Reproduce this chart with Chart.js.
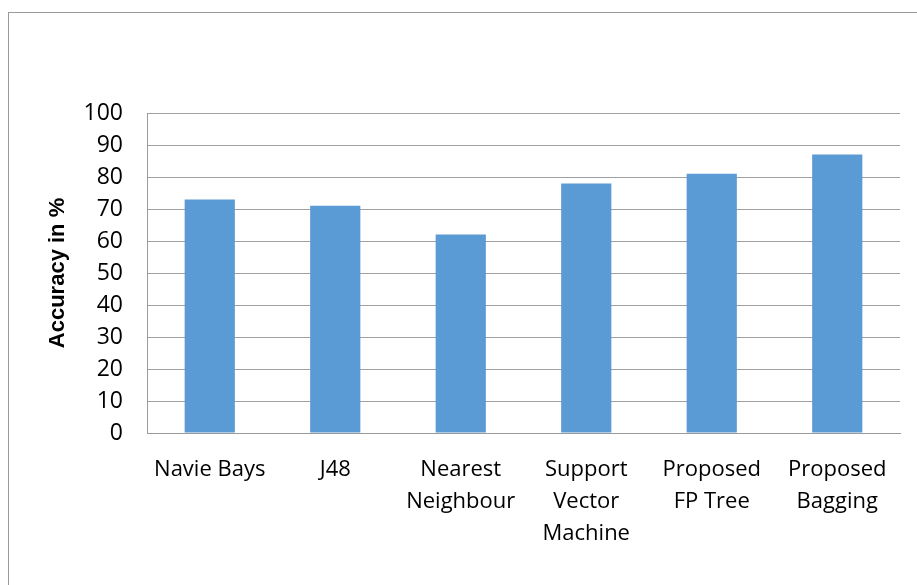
<!DOCTYPE html>
<html>
<head>
<meta charset="utf-8">
<script src="https://cdn.jsdelivr.net/npm/chart.js@4"></script>
<style>
  html, body { margin: 0; padding: 0; background: #fff; }
  #wrap { position: relative; width: 917px; height: 585px; overflow: hidden; }
  #frame { position: absolute; left: 8px; top: 12px; width: 1000px; height: 1000px;
           border-left: 1px solid #9a9a9a; border-top: 1px solid #9a9a9a; }
  canvas { position: absolute; left: 0; top: 0; }
</style>
</head>
<body>
<div id="wrap">
  <div id="frame"></div>
  <canvas id="accuracyChart" width="917" height="585"></canvas>
</div>
<script>
// categories and accuracy values
const methods = [
  'Navie Bays',
  'J48',
  ['Nearest', 'Neighbour'],
  ['Support', 'Vector', 'Machine'],
  ['Proposed', 'FP Tree'],
  ['Proposed', 'Bagging']
]
const accuracy = [73, 71, 62, 78, 81, 87]

const ctx = document.getElementById('accuracyChart').getContext('2d')
Chart.defaults.font.family = '"Open Sans", "DejaVu Sans", sans-serif'
Chart.defaults.color = '#000'

new Chart(ctx, {
  type: 'bar',
  data: {
    labels: methods,
    datasets: [{
      label: 'Accuracy',
      data: accuracy,
      backgroundColor: '#5b9bd5',
      borderWidth: 0,
      barPercentage: 0.5,
      categoryPercentage: 0.8
    }]
  },
  options: {
    responsive: false,
    animation: false,
    layout: { padding: { top: 113, right: 17, left: 45, bottom: 0 } },
    plugins: { legend: { display: false }, tooltip: { enabled: false } },
    scales: {
      x: {
        grid: { display: false, drawTicks: false },
        border: { color: '#9a9a9a' },
        ticks: { font: { size: 22, lineHeight: 1.45 }, padding: 21, maxRotation: 0, autoSkip: false },
        afterFit: scale => { scale.height = 152 }
      },
      y: {
        min: 0,
        max: 100,
        ticks: { stepSize: 10, font: { size: 23 }, padding: 24 },
        grid: { color: '#a0a0a0', drawTicks: false },
        border: { color: '#9a9a9a' },
        title: {
          display: true,
          text: 'Accuracy in %',
          font: { family: '"Liberation Sans", Arial, sans-serif', size: 22, weight: 'bold' },
          padding: 0
        },
        afterFit: scale => { scale.width = 102 }
      }
    }
  }
})
</script>
</body>
</html>
